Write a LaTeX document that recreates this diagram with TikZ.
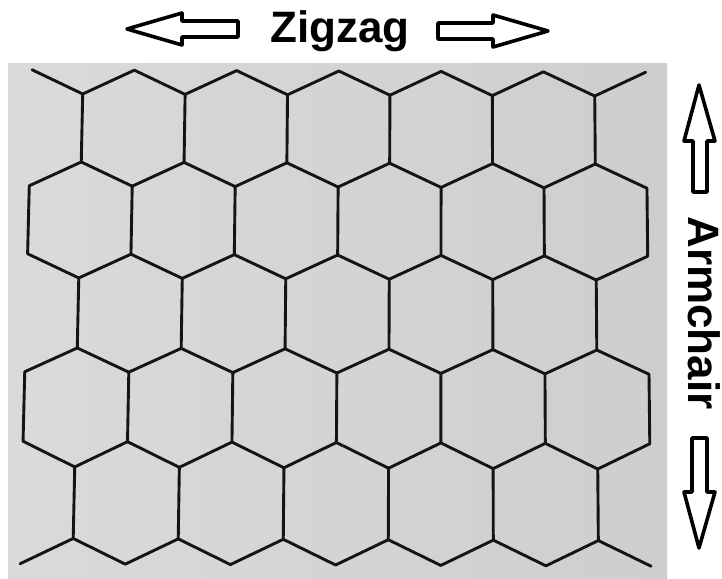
\documentclass[tikz,border=0pt]{standalone}
\usepackage{fontspec}
\setmainfont{Liberation Sans}
\definecolor{paperL}{RGB}{218,218,216}
\definecolor{paperR}{RGB}{206,206,205}
\begin{document}
\begin{tikzpicture}[x=1pt,y=-1pt,
  lat/.style={line width=2.9pt,line cap=round,line join=round,draw={black!92}},
  bigarrow/.style={draw=black,fill=white,line width=3.6pt,line join=round},
  lbl/.style={font=\fontsize{44}{48}\selectfont\bfseries,inner sep=0pt}]
\useasboundingbox (0,0) rectangle (722,578);
\shade[left color=paperL,right color=paperR] (8,63) rectangle (667,578);
% lattice points
\foreach \yy [count=\li from 0] in {71,95,163,187,255,279,349,373,442.5,468,539.5,565} {
  \foreach \j in {0,...,12} {
    \pgfmathsetmacro\px{30.7-0.0243*(\yy-128)+(51.3+0.00294*(\yy-128))*\j}
    \pgfmathsetmacro\py{\yy+0.004*(\px-337)}
    \coordinate (p-\j-\li) at (\px,\py);
  }
}
% zigzag lines
\foreach \k in {0,...,5} {
  \foreach \j in {0,...,11} {
    \pgfmathtruncatemacro\ja{\j+1}
    \pgfmathtruncatemacro\la{ifthenelse(mod(\j,2)==mod(\k,2),2*\k,2*\k+1)}
    \pgfmathtruncatemacro\lb{ifthenelse(mod(\ja,2)==mod(\k,2),2*\k,2*\k+1)}
    \draw[lat] (p-\j-\la) -- (p-\ja-\lb);
  }
}
% vertical bonds
\foreach \r in {0,...,4} {
  \pgfmathtruncatemacro\ta{2*\r+1}
  \pgfmathtruncatemacro\tb{2*\r+2}
  \foreach \j in {0,...,12} {
    \pgfmathtruncatemacro\ok{mod(\j+\r+1,2)==0}
    \ifnum\ok=1 \draw[lat] (p-\j-\ta) -- (p-\j-\tb); \fi
  }
}
% labels
\node[lbl,anchor=base] (zz) at (340,42) {Zigzag};
\node[lbl,anchor=base,rotate=-90] (ac) at (688,313) {Armchair};
% arrows
\draw[bigarrow] (127,29) -- (182,13) -- (182,21) -- (238,21) -- (238,37) -- (182,37) -- (182,45) -- cycle;
\draw[bigarrow] (548,31) -- (493,15) -- (493,23) -- (438,23) -- (438,39) -- (493,39) -- (493,47) -- cycle;
\draw[bigarrow] (699,85) -- (715,141) -- (707,141) -- (707,192) -- (693,192) -- (693,141) -- (684,141) -- cycle;
\draw[bigarrow] (699,548) -- (715,492) -- (707,492) -- (707,438) -- (692,438) -- (692,492) -- (684,492) -- cycle;
\end{tikzpicture}
\end{document}
